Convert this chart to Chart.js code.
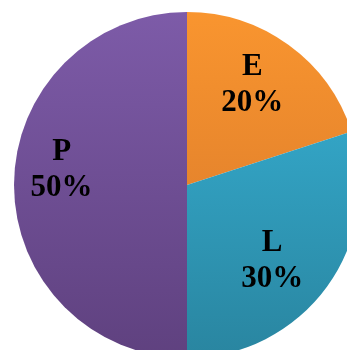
<!DOCTYPE html>
<html>
<head>
<meta charset="utf-8">
<script src="https://cdn.jsdelivr.net/npm/chart.js@4"></script>
<style>
  html, body { margin: 0; padding: 0; background: #fff; overflow: hidden; width: 347px; height: 350px; }
  #wrap { position: absolute; left: 14px; top: 12px; width: 346px; height: 346px; }
</style>
</head>
<body>
<div id="wrap"><canvas id="pieChart"></canvas></div>
<script>
const labels = ['E', 'L', 'P'];
const values = [20, 30, 50];
const topColors = ['#F9952F', '#38B4D8', '#7D5BA8'];
const bottomColors = ['#D4752A', '#2985A0', '#5F417F'];

// label text sits at a fraction of the radius along each slice's middle angle
const labelRadius = [0.69, 0.66, 0.73];
const labelTurn = [-0.05, 0.1, 0.12];

function sliceGradient(context) {
  const chart = context.chart;
  const area = chart.chartArea;
  if (!area) return topColors[context.dataIndex];
  const g = chart.ctx.createLinearGradient(0, area.top, 0, area.bottom);
  g.addColorStop(0, topColors[context.dataIndex]);
  g.addColorStop(1, bottomColors[context.dataIndex]);
  return g;
}

const sliceLabels = {
  id: 'sliceLabels',
  afterDatasetsDraw(chart) {
    const ctx = chart.ctx;
    const total = values.reduce((a, b) => a + b, 0);
    ctx.save();
    ctx.fillStyle = '#000';
    ctx.font = 'bold 31px "Liberation Serif", "Times New Roman", serif';
    ctx.textAlign = 'center';
    ctx.textBaseline = 'middle';
    chart.getDatasetMeta(0).data.forEach((arc, i) => {
      const mid = (arc.startAngle + arc.endAngle) / 2 + labelTurn[i];
      const r = arc.outerRadius * labelRadius[i];
      const x = arc.x + Math.cos(mid) * r;
      const y = arc.y + Math.sin(mid) * r;
      const pct = Math.round(values[i] / total * 100) + '%';
      ctx.fillText(labels[i], x, y - 18);
      ctx.fillText(pct, x, y + 18);
    });
    ctx.restore();
  }
};

new Chart(document.getElementById('pieChart'), {
  type: 'pie',
  data: {
    labels: labels,
    datasets: [
      {
        data: values,
        backgroundColor: sliceGradient,
        borderWidth: 0,
      },
    ],
  },
  options: {
    responsive: true,
    maintainAspectRatio: false,
    animation: false,
    layout: { padding: 0 },
    plugins: {
      legend: { display: false },
      tooltip: { enabled: false },
    },
  },
  plugins: [sliceLabels],
});
</script>
</body>
</html>
